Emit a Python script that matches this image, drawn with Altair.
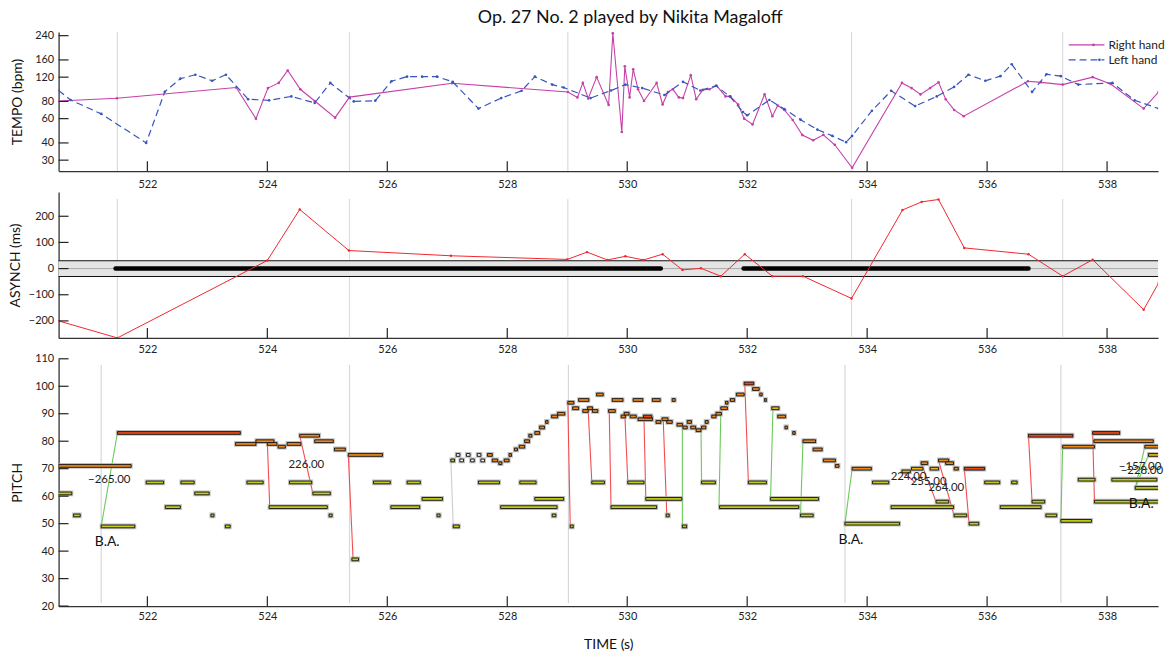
import altair as alt
import pandas as pd

TITLE = "Op. 27 No. 2 played by Nikita Magaloff"
FONT = "Lato"

# ---------------- shared time axis ----------------
x_ticks = [522, 524, 526, 528, 530, 532, 534, 536, 538]
x_domain = [520.52, 538.85]

# ---------------- tempo panel ----------------
tempo_ticks = [30, 40, 60, 80, 120, 160, 240]
hand_names = ["Right hand", "Left hand"]
rh_time = [520.52, 521.49, 523.48, 523.81, 524.01, 524.19, 524.34, 524.55, 524.79, 525.13,
           525.37, 527.08, 529.01, 529.17, 529.26, 529.35, 529.49, 529.69, 529.76, 529.91,
           529.96, 530.04, 530.10, 530.18, 530.28, 530.49, 530.59, 530.68, 530.76, 530.86,
           530.93, 531.06, 531.15, 531.26, 531.37, 531.49, 531.64, 531.72, 531.85, 531.95,
           532.09, 532.29, 532.42, 532.51, 532.62, 532.76, 532.92, 533.10, 533.27, 533.46,
           533.75, 534.58, 534.74, 534.89, 535.05, 535.19, 535.31, 535.45, 535.61, 536.68,
           536.90, 537.26, 537.76, 538.06, 538.61, 538.86]
rh_bpm = [80.6, 84.3, 101, 60, 100, 109, 134, 98, 80.6, 61,
          86, 108.5, 93.7, 85.6, 109, 84, 120, 75.4, 250, 48,
          144, 85.6, 137, 98, 80.6, 109, 76, 93.7, 98, 85.6,
          84.6, 124, 83, 97, 98, 104, 87, 87, 76, 60,
          54.5, 90, 62.5, 74.6, 69.4, 58.7, 45.6, 41.8, 45.8, 38.8,
          26.4, 109, 100, 90, 100, 110, 83, 69.4, 62.5, 112,
          110, 106, 120, 107, 71, 94]
lh_time = [520.52, 520.72, 521.23, 521.98, 522.29, 522.55, 522.80, 523.08, 523.31, 523.68,
           524.03, 524.40, 524.79, 525.05, 525.44, 525.80, 526.07, 526.33, 526.58, 526.83,
           527.09, 527.52, 527.90, 528.24, 528.46, 528.75, 528.94, 529.39, 529.73, 529.97,
           530.25, 530.62, 530.93, 531.22, 531.48, 531.71, 531.93, 532.00, 532.37, 532.62,
           532.89, 533.17, 533.42, 533.65, 533.75, 534.08, 534.40, 534.80, 535.16, 535.45,
           535.69, 535.97, 536.22, 536.41, 536.75, 536.99, 537.23, 537.52, 538.09, 538.46,
           538.86]
lh_bpm = [96, 82, 65, 40, 94, 117, 125, 113, 125, 83,
          81.5, 87, 78, 109, 80, 81, 112, 121, 121, 121,
          111, 71, 84.6, 95.6, 121, 106, 101, 84.6, 96, 106,
          100, 89, 111, 96, 104, 87, 67, 63.5, 82, 70.5,
          59, 50, 45, 40.5, 45, 68.5, 95.6, 74, 87, 102,
          125, 113, 122, 149, 93.7, 126, 122, 106, 109, 81.5,
          71]
bar_lines_top = [521.50, 525.37, 529.01, 533.74, 537.26]

# ---------------- asynchrony panel ----------------
asy_ticks = [-200, -100, 0, 100, 200]
asy_time = [520.52, 521.50, 524.00, 524.54, 525.36, 527.06, 529.00, 529.33, 529.67, 529.97,
            530.27, 530.59, 530.92, 531.23, 531.56, 531.96, 532.42, 532.93, 533.74, 534.59,
            534.91, 535.19, 535.62, 536.69, 537.26, 537.76, 538.61, 538.86]
asy_ms = [-200, -265, 31, 226, 69, 49, 35, 63, 33, 47,
          33, 55, -5, 1, -29, 55, -29, -29, -114, 224,
          255, 264, 79, 55, -29, 34, -157, -55]
tolerance = [-30, 30]
sync_start = [521.47, 531.94]
sync_end = [530.56, 536.69]

# ---------------- pitch panel ----------------
pitch_ticks = [20, 30, 40, 50, 60, 70, 80, 90, 100, 110]
bar_lines_pitch = [521.23, 525.37, 529.02, 533.63, 537.23]
dyn_levels = ["ff", "f", "mf", "mp", "pp"]

note_on = [
    520.52, 521.50, 523.47, 523.81, 524.00, 524.18, 524.33, 524.54, 524.79, 525.12,
    525.35, 527.06, 527.15, 527.21, 527.32, 527.39, 527.50, 527.56, 527.67, 527.75,
    527.86, 527.95, 528.03, 528.12, 528.20, 528.29, 528.36, 528.46, 528.54, 528.64,
    528.74, 528.84, 529.01, 529.09, 529.19, 529.26, 529.34, 529.42, 529.49, 529.69,
    529.75, 529.90, 529.95, 530.05, 530.10, 530.18, 530.27, 530.42, 530.48, 530.58,
    530.66, 530.75, 530.83, 530.93, 531.00, 531.06, 531.15, 531.24, 531.30, 531.41,
    531.48, 531.56, 531.64, 531.72, 531.82, 531.95, 532.09, 532.21, 532.29, 532.41,
    532.51, 532.63, 532.76, 532.93, 533.10, 533.27, 533.47, 533.75, 534.58, 534.74,
    534.90, 535.05, 535.19, 535.31, 535.45, 535.62, 536.69, 537.26, 537.76, 537.78,
    538.63, 538.69,
    520.45, 520.77, 521.23, 521.98, 522.30, 522.56, 522.79, 523.06, 523.30, 523.66,
    524.03, 524.37, 524.76, 525.03, 525.41, 525.77, 526.06, 526.33, 526.58, 526.83,
    527.10, 527.52, 527.89, 528.21, 528.46, 528.75, 529.05, 529.41, 529.73, 530.01,
    530.31, 530.65, 530.92, 531.24, 531.54, 532.02, 532.39, 532.89, 533.63, 534.09,
    534.40, 535.15, 535.45, 535.70, 535.96, 536.22, 536.41, 536.75, 536.98, 537.23,
    537.52, 537.79, 538.08, 538.47]
note_off = [
    521.73, 523.55, 523.81, 524.11, 524.16, 524.30, 524.56, 524.87, 525.10, 525.30,
    525.92, 527.12, 527.21, 527.27, 527.38, 527.45, 527.56, 527.62, 527.75, 527.84,
    527.91, 528.03, 528.07, 528.17, 528.29, 528.37, 528.41, 528.54, 528.62, 528.68,
    528.84, 528.96, 529.11, 529.19, 529.36, 529.35, 529.42, 529.51, 529.60, 529.80,
    529.93, 529.97, 530.03, 530.15, 530.26, 530.42, 530.41, 530.55, 530.56, 530.68,
    530.75, 530.80, 530.92, 531.00, 531.07, 531.14, 531.23, 531.31, 531.35, 531.48,
    531.57, 531.67, 531.68, 531.79, 531.95, 532.11, 532.20, 532.25, 532.32, 532.53,
    532.64, 532.67, 532.80, 533.14, 533.25, 533.47, 533.53, 534.07, 534.72, 534.93,
    535.01, 535.19, 535.36, 535.44, 535.52, 535.96, 537.43, 537.79, 538.21, 538.77,
    538.95, 538.95,
    520.74, 520.88, 521.79, 522.27, 522.55, 522.78, 523.03, 523.11, 523.38, 523.93,
    525.00, 524.74, 525.05, 525.08, 525.52, 526.05, 526.54, 526.55, 526.92, 526.88,
    527.20, 527.87, 528.83, 528.48, 528.94, 528.81, 529.10, 529.62, 530.49, 530.28,
    530.91, 530.70, 530.99, 531.47, 532.86, 532.32, 533.19, 533.10, 534.54, 534.36,
    535.44, 535.36, 535.66, 535.86, 536.21, 536.90, 536.50, 536.96, 537.16, 537.74,
    537.80, 538.95, 538.83, 538.95]
note_pitch = [
    71, 83, 79, 80, 79, 78, 79, 82, 80, 77,
    75, 73, 75, 73, 75, 73, 75, 73, 75, 73,
    72, 73, 75, 77, 78, 80, 82, 83, 85, 87,
    89, 90, 94, 92, 95, 91, 92, 91, 97, 91,
    95, 89, 90, 89, 95, 88, 89, 95, 87, 88,
    87, 95, 86, 85, 87, 85, 84, 85, 87, 89,
    90, 92, 94, 95, 97, 101, 99, 97, 95, 92,
    89, 85, 83, 80, 77, 73, 71, 70, 69, 70,
    72, 70, 73, 72, 70, 70, 82, 78, 83, 80,
    78, 75,
    61, 53, 49, 65, 56, 65, 61, 53, 49, 65,
    56, 65, 61, 53, 37, 65, 56, 65, 59, 53,
    49, 65, 56, 65, 59, 53, 49, 65, 56, 65,
    59, 53, 49, 65, 56, 65, 59, 53, 50, 65,
    56, 58, 53, 50, 65, 56, 65, 58, 53, 51,
    66, 58, 66, 63]
note_dyn = [
    "f", "ff", "f", "f", "f", "f", "f", "f", "f", "f",
    "f", "mp", "pp", "pp", "pp", "pp", "pp", "pp", "f", "f",
    "f", "f", "f", "f", "f", "f", "f", "f", "f", "f",
    "f", "f", "f", "f", "f", "f", "f", "f", "f", "f",
    "f", "f", "f", "f", "f", "f", "ff", "f", "f", "f",
    "f", "f", "f", "f", "f", "f", "f", "f", "f", "f",
    "f", "f", "f", "f", "f", "ff", "f", "f", "f", "mf",
    "f", "f", "f", "f", "f", "f", "f", "f", "mf", "mf",
    "f", "mf", "f", "f", "f", "ff", "ff", "f", "ff", "f",
    "f", "mf"] + ["mp"] * 54

# asynchrony links between the two hands (onset of first hand -> onset of second)
link_t1 = [521.23, 524.00, 524.54, 525.35, 527.06, 529.01, 529.35, 529.70, 529.96, 530.28,
           530.60, 530.92, 531.23, 531.56, 531.96, 532.43, 532.89, 533.63, 534.58, 534.90,
           535.19, 535.62, 536.69, 537.23, 537.76, 538.47, 538.47]
link_p1 = [49, 80, 82, 75, 73, 94, 91, 91, 90, 88,
           88, 85, 84, 90, 101, 92, 53, 50, 69, 72,
           73, 70, 82, 51, 83, 63, 63]
link_t2 = [521.50, 524.04, 524.76, 525.43, 527.10, 529.05, 529.41, 529.73, 530.01, 530.31,
           530.66, 530.92, 531.24, 531.53, 532.02, 532.39, 532.93, 533.75, 534.80, 535.15,
           535.45, 535.70, 536.75, 537.26, 537.79, 538.63, 538.69]
link_p2 = [83, 56, 61, 37, 49, 49, 65, 56, 65, 59,
           53, 49, 65, 56, 65, 59, 80, 70, 65, 58,
           53, 50, 58, 78, 58, 78, 75]
link_kind = ["neg", "pos", "pos", "pos", "zero", "pos", "pos", "pos", "pos", "pos",
             "pos", "neg", "neg", "neg", "pos", "neg", "neg", "neg", "pos", "pos",
             "pos", "pos", "pos", "neg", "pos", "neg", "neg"]
link_label = ["\u2212265.00", "", "226.00", "", "", "", "", "", "", "",
              "", "", "", "", "", "", "", "", "224.00", "255.00",
              "264.00", "", "", "", "", "\u2212157.00", "\u2212228.00"]
ba_time = [521.23, 533.63, 538.47]
ba_pitch = [49, 50, 63]
ba_text = ["B.A."] * 3

# ---------------- dataframes ----------------
rh_df = pd.DataFrame({"t": rh_time, "v": rh_bpm})
lh_df = pd.DataFrame({"t": lh_time, "v": lh_bpm})
asy_df = pd.DataFrame({"t": asy_time, "v": asy_ms})
notes_df = pd.DataFrame({"t": note_on, "t2": note_off, "v": note_pitch, "dyn": note_dyn})
links_df = pd.DataFrame({"t": link_t1, "v": link_p1, "t2": link_t2, "v2": link_p2,
                         "kind": link_kind, "label": link_label})
ba_df = pd.DataFrame({"t": ba_time, "v": ba_pitch, "txt": ba_text})
xt_df = pd.DataFrame({"t": x_ticks})

W = 1107
H_TOP, H_MID, H_BOT = 140, 147, 249

xs = alt.Scale(domain=x_domain, nice=False, zero=False)


def x_axis(pad, title_pad=None):
    if title_pad is None:
        return alt.Axis(values=x_ticks, format="d", ticks=False, grid=False,
                        labelPadding=pad, labelFlush=False)
    return alt.Axis(values=x_ticks, format="d", ticks=False, grid=False,
                    labelPadding=pad, labelFlush=False, titlePadding=title_pad)


def y_axis(vals, title, tpad):
    return alt.Axis(values=vals, ticks=False, grid=False, labelPadding=5,
                    title=title, titlePadding=tpad, labelFlush=False)


# ================= TOP PANEL: tempo =================
xa_top = x_axis(8)
tempo_scale = alt.Scale(type="log", domain=[25, 255], nice=False)
ya_top = y_axis(tempo_ticks, "TEMPO (bpm)", 10)
Xt = lambda f="t": alt.X(f"{f}:Q", scale=xs, axis=xa_top, title=None)
Yt = lambda f="v": alt.Y(f"{f}:Q", scale=tempo_scale, axis=ya_top)

MAG = "#C63FA8"
BLUE = "#3656BC"

top_grid = alt.Chart(pd.DataFrame({"t": bar_lines_top})).mark_rule(
    color="#DCDCDC", strokeWidth=1.2).encode(x=Xt(), y=alt.value(0), y2=alt.value(H_TOP))
top_rh = alt.Chart(rh_df).mark_line(
    color=MAG, strokeWidth=1.1, clip=True,
    point=alt.OverlayMarkDef(color=MAG, size=7, filled=True)).encode(x=Xt(), y=Yt())
top_lh = alt.Chart(lh_df).mark_line(
    color=BLUE, strokeWidth=1.2, strokeDash=[7, 4], clip=True,
    point=alt.OverlayMarkDef(color=BLUE, size=7, filled=True)).encode(x=Xt(), y=Yt())
top_xt = alt.Chart(xt_df).mark_rule(color="#222", strokeWidth=1.2).encode(
    x=Xt(), y=alt.value(H_TOP), y2=alt.value(H_TOP - 10))
top_yt = alt.Chart(pd.DataFrame({"v": tempo_ticks})).mark_rule(color="#222", strokeWidth=1.2).encode(
    y=Yt(), x=alt.value(0), x2=alt.value(10))
# legend (manual)
leg = []
for i, (col, dash) in enumerate([(MAG, [1, 0]), (BLUE, [7, 4])]):
    d = pd.DataFrame({"name": [hand_names[i]]})
    yy = 13 + 15 * i
    leg.append(alt.Chart(d).mark_rule(color=col, strokeWidth=1.2, strokeDash=dash).encode(
        x=alt.value(1017), x2=alt.value(1053), y=alt.value(yy)))
    leg.append(alt.Chart(d).mark_point(color=col, size=7, filled=True, opacity=1).encode(
        x=alt.value(1042 + 6 * i), y=alt.value(yy)))
    leg.append(alt.Chart(d).mark_text(align="left", baseline="middle", font=FONT, fontSize=12,
                                      color="#222").encode(
        x=alt.value(1057), y=alt.value(yy), text="name:N"))

top = alt.layer(top_grid, top_rh, top_lh, top_xt, top_yt, *leg).properties(
    width=W, height=H_TOP)

# ================= MIDDLE PANEL: asynchrony =================
xa_mid = x_axis(6)
asy_scale = alt.Scale(domain=[-265, 293], nice=False, zero=False)
ya_mid = y_axis(asy_ticks, "ASYNCH (ms)", 6)
Xm = lambda f="t": alt.X(f"{f}:Q", scale=xs, axis=xa_mid, title=None)
Ym = lambda f="v": alt.Y(f"{f}:Q", scale=asy_scale, axis=ya_mid)

tol_df = pd.DataFrame({"v": [tolerance[0]], "v2": [tolerance[1]]})
mid_grid = alt.Chart(pd.DataFrame({"t": bar_lines_top})).mark_rule(
    color="#DCDCDC", strokeWidth=1.2).encode(x=Xm(), y=alt.value(7), y2=alt.value(H_MID))
mid_band = alt.Chart(tol_df).mark_rect(color="#E4E4E4").encode(
    x=alt.value(0), x2=alt.value(W), y=Ym(), y2="v2:Q")
mid_tol = alt.Chart(pd.DataFrame({"v": tolerance})).mark_rule(color="#111", strokeWidth=1.1).encode(
    y=Ym(), x=alt.value(0), x2=alt.value(W))
mid_zero = alt.Chart(pd.DataFrame({"v": [0]})).mark_rule(color="#A8A8A8", strokeWidth=1).encode(
    y=Ym(), x=alt.value(0), x2=alt.value(W))
mid_sync = alt.Chart(pd.DataFrame({"t": sync_start, "t2": sync_end, "v": [0, 0]})).mark_rule(
    color="#000", strokeWidth=4.5, strokeCap="round").encode(x=Xm(), x2="t2:Q", y=Ym())
mid_line = alt.Chart(asy_df).mark_line(
    color="#F0262C", strokeWidth=1, clip=True,
    point=alt.OverlayMarkDef(color="#F0262C", size=6, filled=True)).encode(x=Xm(), y=Ym())
mid_xt = alt.Chart(xt_df).mark_rule(color="#222", strokeWidth=1.2).encode(
    x=Xm(), y=alt.value(H_MID), y2=alt.value(H_MID - 10))
mid_yt = alt.Chart(pd.DataFrame({"v": asy_ticks})).mark_rule(color="#222", strokeWidth=1.2).encode(
    y=Ym(), x=alt.value(0), x2=alt.value(10))

mid = alt.layer(mid_grid, mid_band, mid_tol, mid_zero, mid_sync, mid_line, mid_xt, mid_yt).properties(
    width=W, height=H_MID)

# ================= BOTTOM PANEL: piano roll =================
xa_bot = x_axis(5, 16)
pitch_scale = alt.Scale(domain=[20, 110], nice=False, zero=False)
ya_bot = y_axis(pitch_ticks, "PITCH", 10)
Xb = lambda f="t": alt.X(f"{f}:Q", scale=xs, axis=xa_bot, title="TIME (s)")
Yb = lambda f="v": alt.Y(f"{f}:Q", scale=pitch_scale, axis=ya_bot)

dyn_scale = alt.Scale(domain=dyn_levels,
                      range=["#EC4812", "#EE8618", "#E6B414", "#C4CC16", "#F4F4F4"])

bot_grid = alt.Chart(pd.DataFrame({"t": bar_lines_pitch})).mark_rule(
    color="#D8D8D8", strokeWidth=1.2).encode(x=Xb(), y=alt.value(6), y2=alt.value(H_BOT - 3))
note_base = alt.Chart(notes_df).transform_calculate(
    lo="datum.v - 0.5", hi="datum.v + 0.5")
note_shadow = note_base.mark_rect(fill="#999999", stroke="#A8A8A8", strokeWidth=3,
                                  strokeOpacity=0.75, clip=True).encode(
    x=Xb(), x2="t2:Q", y=Yb("lo"), y2="hi:Q")
note_rect = note_base.mark_rect(stroke="#111", strokeWidth=0.9, clip=True).encode(
    x=Xb(), x2="t2:Q", y=Yb("lo"), y2="hi:Q",
    fill=alt.Fill("dyn:N", scale=dyn_scale, legend=None))
link_rules = alt.Chart(links_df).mark_rule(strokeWidth=1.1, opacity=0.9).encode(
    x=Xb(), x2="t2:Q", y=Yb(), y2="v2:Q",
    color=alt.Color("kind:N", scale=alt.Scale(domain=["pos", "neg", "zero"],
                                              range=["#F23A3E", "#5DC24A", "#C8C8C8"]),
                    legend=None))
link_text = alt.Chart(links_df).transform_filter("datum.label != ''").transform_calculate(
    mt="(datum.t + datum.t2) / 2", mv="(datum.v + datum.v2) / 2").mark_text(
    font=FONT, fontSize=11.5, color="#222", align="center", baseline="middle").encode(
    x=Xb("mt"), y=Yb("mv"), text="label:N")
ba_lab = alt.Chart(ba_df).mark_text(font=FONT, fontSize=14, color="#111", align="center",
                                    baseline="middle", dx=6, dy=16).encode(
    x=Xb(), y=Yb(), text="txt:N")
bot_xt = alt.Chart(xt_df).mark_rule(color="#222", strokeWidth=1.2).encode(
    x=Xb(), y=alt.value(H_BOT), y2=alt.value(H_BOT - 10))
bot_yt = alt.Chart(pd.DataFrame({"v": pitch_ticks})).mark_rule(color="#222", strokeWidth=1.2).encode(
    y=Yb(), x=alt.value(0), x2=alt.value(10))

bot = alt.layer(bot_grid, link_rules, note_shadow, note_rect, link_text, ba_lab, bot_xt, bot_yt).properties(
    width=W, height=H_BOT)

chart = alt.vconcat(top, mid, bot, spacing=21, bounds="flush").properties(
    title=alt.TitleParams(TITLE, font=FONT, fontSize=18, fontWeight="normal", color="#111",
                          anchor="middle", dx=44, offset=3),
    padding={"left": 8, "top": 6, "right": 0, "bottom": 0},
    background="white",
).configure_view(stroke=None).configure_axis(
    labelFont=FONT, titleFont=FONT, labelFontSize=11, titleFontSize=14,
    titleFontWeight="normal", labelColor="#222", titleColor="#111",
    domainColor="#333", domainWidth=1.3,
)

chart.save("out.html", embed_options={"renderer": "svg", "actions": False})
